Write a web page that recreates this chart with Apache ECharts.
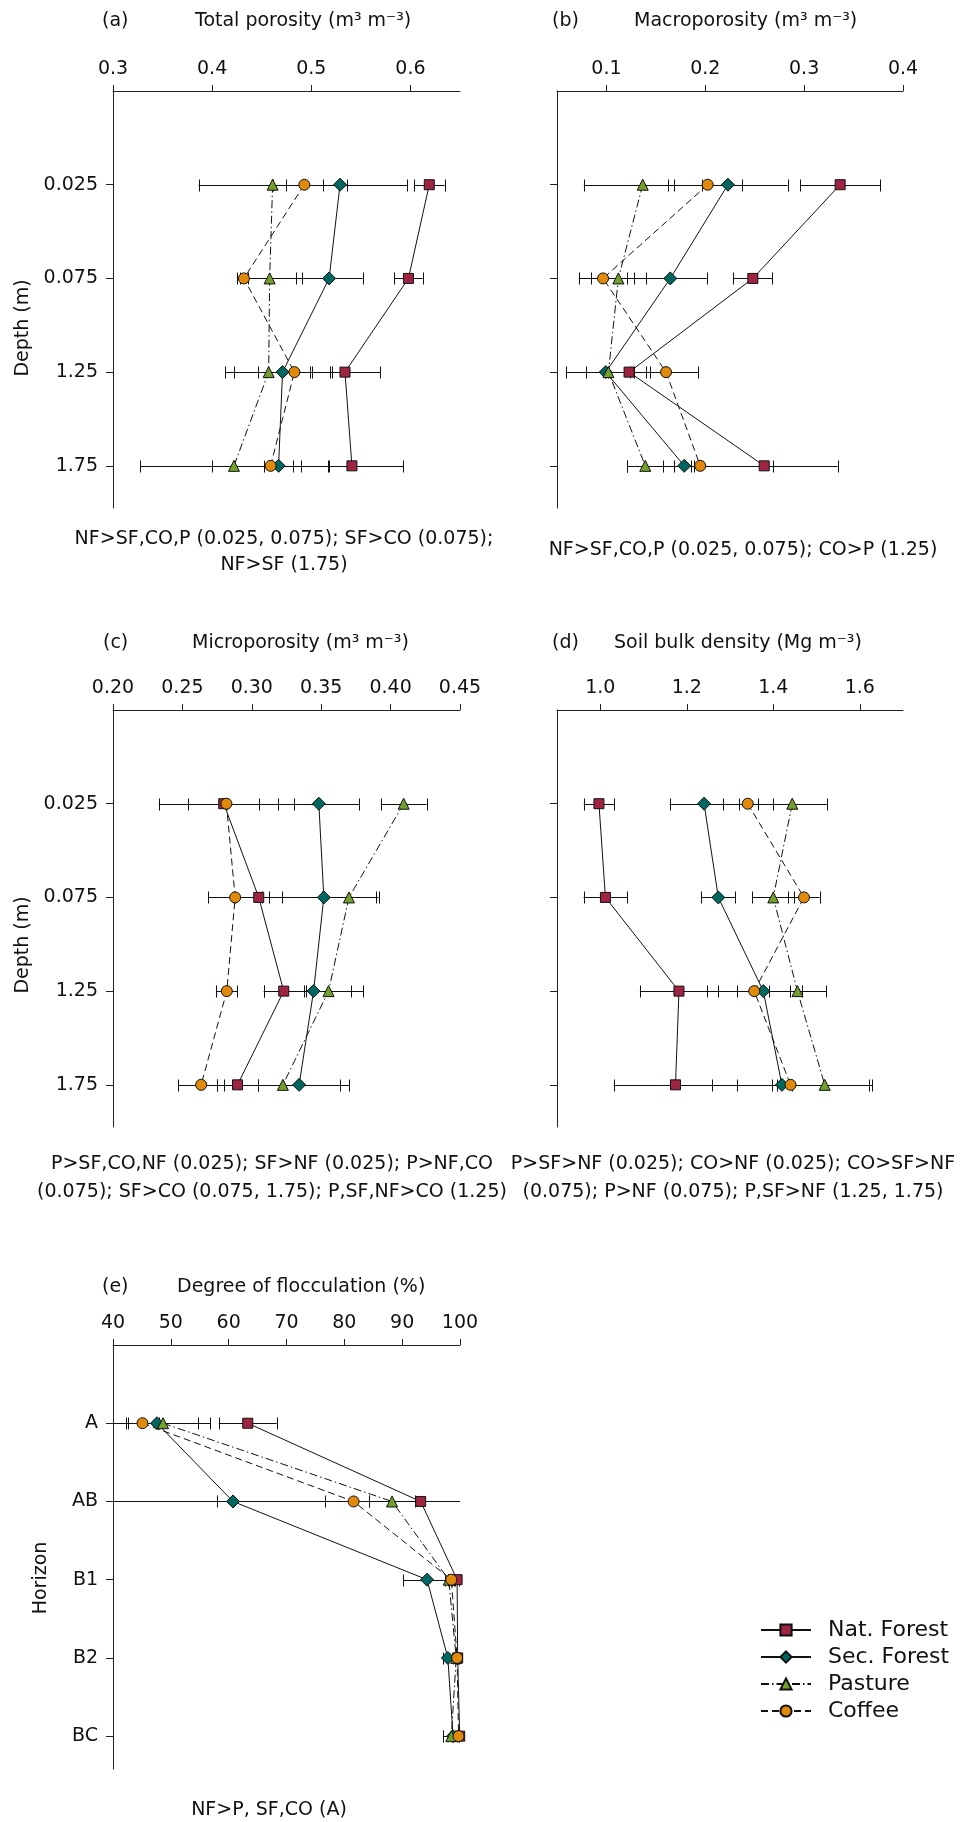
<!DOCTYPE html>
<html>
<head>
<meta charset="utf-8">
<script src="https://cdn.jsdelivr.net/npm/echarts@6/dist/echarts.min.js"></script>
<style>
  html, body { margin: 0; padding: 0; background: #fff; }
  #main { width: 965px; height: 1822px; }
</style>
</head>
<body>
<div id="main"></div>
<script>
// series order: Nat. Forest, Sec. Forest, Pasture, Coffee
const seriesNames = ['Nat. Forest', 'Sec. Forest', 'Pasture', 'Coffee'];
const depthLabels = ['0.025', '0.075', '1.25', '1.75'];
const horizonLabels = ['A', 'AB', 'B1', 'B2', 'BC'];

// (a) total porosity, means and error half-widths per depth
const totalPorosity = [
  [0.619, 0.598, 0.534, 0.541],
  [0.529, 0.518, 0.471, 0.467],
  [0.461, 0.458, 0.457, 0.422],
  [0.493, 0.432, 0.483, 0.459]
];
const totalPorosityErr = [
  [0.0155, 0.0143, 0.0353, 0.0515],
  [0.068, 0.0338, 0.0494, 0.0149],
  [0.0746, 0.0325, 0.0437, 0.0948],
  [0.019, 0.004, 0.0363, 0.0591]
];

// (b) macroporosity
const macroporosity = [
  [0.3364, 0.2481, 0.1229, 0.2596],
  [0.2229, 0.1646, 0.0993, 0.1787],
  [0.1367, 0.1121, 0.102, 0.1393],
  [0.2024, 0.0966, 0.1603, 0.1949]
];
const macroporosityErr = [
  [0.0407, 0.0197, 0.0209, 0.0743],
  [0.0603, 0.0369, 0.0404, 0.010],
  [0.0596, 0.0278, 0.0222, 0.018],
  [0.0345, 0.0246, 0.0327, 0.074]
];

// (c) microporosity
const microporosity = [
  [0.2798, 0.305, 0.323, 0.2897],
  [0.3483, 0.3519, 0.3445, 0.3341],
  [0.4094, 0.37, 0.3553, 0.3224],
  [0.2817, 0.288, 0.282, 0.2635]
];
const microporosityErr = [
  [0.0255, 0.0168, 0.0144, 0.015],
  [0.0291, 0.0394, 0.0358, 0.0294],
  [0.0165, 0.0197, 0.0159, 0.0477],
  [0.0487, 0.0195, 0.0076, 0.0166]
];

// (d) soil bulk density
const bulkDensity = [
  [0.997, 1.012, 1.182, 1.174],
  [1.240, 1.273, 1.377, 1.420],
  [1.444, 1.400, 1.456, 1.519],
  [1.341, 1.471, 1.356, 1.440]
];
const bulkDensityErr = [
  [0.0352, 0.0506, 0.0904, 0.1429],
  [0.0797, 0.0395, 0.0609, 0.0238],
  [0.080, 0.049, 0.0667, 0.11],
  [0.0582, 0.036, 0.1096, 0.182]
];

// (e) degree of flocculation per horizon
const flocculation = [
  [63.3, 93.2, 99.5, 99.6, 99.95],
  [47.6, 60.75, 94.3, 97.9, 98.8],
  [48.65, 88.25, 98.05, 99.35, 98.5],
  [45.1, 81.6, 98.5, 99.5, 99.75]
];
const flocculationErr = [
  [5.0, 16.5, 0.4, 0.3, 0.2],
  [9.2, 23.5, 4.15, 0.87, 1.7],
  [6.1, 4.0, 0.6, 0.3, 1.4],
  [2.9, 23.7, 0.5, 0.3, 0.3]
];

const FONT = 'DejaVu Sans, sans-serif';
const INK = '#111';
const AXIS = '#222';

const marks = [
  { symbol: 'rect', size: 10, color: '#9E2442', dash: 'solid' },
  { symbol: 'diamond', size: 13, color: '#00665F', dash: 'solid' },
  { symbol: 'triangle', size: 11, color: '#73A02C', dash: [8, 3, 1.5, 3] },
  { symbol: 'circle', size: 11, color: '#E0890A', dash: [7, 4] }
];

const panels = [
  { grid: { left: 113, top: 91, width: 347, height: 417 }, xmin: 0.3, xmax: 0.65,
    xticks: [0.3, 0.4, 0.5, 0.6], dec: 1, ymax: 4.45, cats: depthLabels, showY: true,
    means: totalPorosity, errs: totalPorosityErr },
  { grid: { left: 557, top: 91, width: 346, height: 417 }, xmin: 0.05, xmax: 0.4,
    xticks: [0.1, 0.2, 0.3, 0.4], dec: 1, ymax: 4.45, cats: depthLabels, showY: false,
    means: macroporosity, errs: macroporosityErr },
  { grid: { left: 113, top: 710, width: 347, height: 417 }, xmin: 0.2, xmax: 0.45,
    xticks: [0.2, 0.25, 0.3, 0.35, 0.4, 0.45], dec: 2, ymax: 4.45, cats: depthLabels, showY: true,
    means: microporosity, errs: microporosityErr },
  { grid: { left: 557, top: 710, width: 346, height: 417 }, xmin: 0.9, xmax: 1.7,
    xticks: [1.0, 1.2, 1.4, 1.6], dec: 1, ymax: 4.45, cats: depthLabels, showY: false,
    means: bulkDensity, errs: bulkDensityErr },
  { grid: { left: 113, top: 1345, width: 347, height: 424 }, xmin: 40, xmax: 100,
    xticks: [40, 50, 60, 70, 80, 90, 100], dec: 0, ymax: 5.42, cats: horizonLabels, showY: true,
    means: flocculation, errs: flocculationErr }
];

// horizontal error bar with end caps, snapped to whole pixels
function errBar(params, api) {
  const m = api.value(0), y = api.value(1), e = api.value(2);
  const a = api.coord([m - e, y]);
  const b = api.coord([m + e, y]);
  const yy = Math.round(a[1]) + 0.5;
  const xa = Math.round(a[0]) + 0.5, xb = Math.round(b[0]) + 0.5;
  const h = 6;
  const st = { stroke: '#111', lineWidth: 1 };
  return {
    type: 'group',
    children: [
      { type: 'line', shape: { x1: a[0], y1: yy, x2: b[0], y2: yy }, style: st },
      { type: 'line', shape: { x1: xa, y1: yy - h, x2: xa, y2: yy + h }, style: st },
      { type: 'line', shape: { x1: xb, y1: yy - h, x2: xb, y2: yy + h }, style: st }
    ]
  };
}

const grids = [], xAxes = [], yAxes = [], series = [];
panels.forEach((p, k) => {
  grids.push(p.grid);
  xAxes.push({
    type: 'value', gridIndex: k, position: 'top', min: p.xmin, max: p.xmax,
    axisLine: { onZero: false, lineStyle: { color: AXIS, width: 1 } },
    axisTick: { customValues: p.xticks, length: 6, lineStyle: { color: AXIS } },
    axisLabel: { customValues: p.xticks, margin: 12, fontFamily: FONT, fontSize: 19, color: INK,
      formatter: v => Number(v).toFixed(p.dec) },
    splitLine: { show: false }
  });
  const ticks = p.cats.map((c, i) => i + 1);
  yAxes.push({
    type: 'value', gridIndex: k, inverse: true, min: 0, max: p.ymax,
    axisLine: { show: true, onZero: false, lineStyle: { color: AXIS, width: 1 } },
    axisTick: { show: true, customValues: ticks, length: 7, lineStyle: { color: AXIS } },
    axisLabel: { show: p.showY, customValues: ticks, margin: 15, fontFamily: FONT, fontSize: 19, color: INK,
      formatter: v => p.cats[Math.round(v) - 1] || '' },
    splitLine: { show: false }
  });
  seriesNames.forEach((name, s) => {
    series.push({
      type: 'custom', name: name + ' error', xAxisIndex: k, yAxisIndex: k, clip: true, z: 2,
      renderItem: errBar, silent: true,
      data: p.means[s].map((v, i) => [v, i + 1, p.errs[s][i]])
    });
  });
  seriesNames.forEach((name, s) => {
    const mk = marks[s];
    series.push({
      type: 'line', name: name, xAxisIndex: k, yAxisIndex: k, z: 3,
      symbol: mk.symbol, symbolSize: mk.size,
      lineStyle: { color: '#111', width: 1, type: mk.dash },
      itemStyle: { color: mk.color, borderColor: '#111', borderWidth: 1 },
      data: p.means[s].map((v, i) => [v, i + 1])
    });
  });
});

function txt(text, x, y, opt) {
  opt = opt || {};
  return {
    type: 'text', x: x, y: y, rotation: opt.rot || 0,
    style: { text: text, fill: INK, font: (opt.size || 19) + 'px ' + FONT,
      textAlign: opt.align || 'left', textVerticalAlign: 'middle' }
  };
}

const graphics = [
  txt('(a)', 102, 21), txt('Total porosity (m³ m⁻³)', 195, 21),
  txt('(b)', 552, 21), txt('Macroporosity (m³ m⁻³)', 634, 21),
  txt('(c)', 103, 643), txt('Microporosity (m³ m⁻³)', 192, 643),
  txt('(d)', 552, 643), txt('Soil bulk density (Mg m⁻³)', 614, 643),
  txt('(e)', 102, 1287), txt('Degree of flocculation (%)', 177, 1287),
  txt('Depth (m)', 23, 328, { align: 'center', rot: Math.PI / 2 }),
  txt('Depth (m)', 23, 945, { align: 'center', rot: Math.PI / 2 }),
  txt('Horizon', 41, 1578, { align: 'center', rot: Math.PI / 2 }),
  txt('NF>SF,CO,P (0.025, 0.075); SF>CO (0.075);', 284, 539, { align: 'center' }),
  txt('NF>SF (1.75)', 284, 565, { align: 'center' }),
  txt('NF>SF,CO,P (0.025, 0.075); CO>P (1.25)', 743, 550, { align: 'center' }),
  txt('P>SF,CO,NF (0.025); SF>NF (0.025); P>NF,CO', 272, 1164, { align: 'center' }),
  txt('(0.075); SF>CO (0.075, 1.75); P,SF,NF>CO (1.25)', 272, 1192, { align: 'center' }),
  txt('P>SF>NF (0.025); CO>NF (0.025); CO>SF>NF', 733, 1164, { align: 'center' }),
  txt('(0.075); P>NF (0.075); P,SF>NF (1.25, 1.75)', 733, 1192, { align: 'center' }),
  txt('NF>P, SF,CO (A)', 269, 1810, { align: 'center' })
];

const chart = echarts.init(document.getElementById('main'));
chart.setOption({
  backgroundColor: '#fff',
  animation: false,
  grid: grids,
  xAxis: xAxes,
  yAxis: yAxes,
  legend: {
    data: seriesNames, orient: 'vertical', left: 755, top: 1614,
    itemWidth: 50, itemHeight: 14, itemGap: 5,
    textStyle: { fontFamily: FONT, fontSize: 22, color: INK, padding: [0, 0, 0, 12] }
  },
  graphic: graphics,
  series: series
});
</script>
</body>
</html>
